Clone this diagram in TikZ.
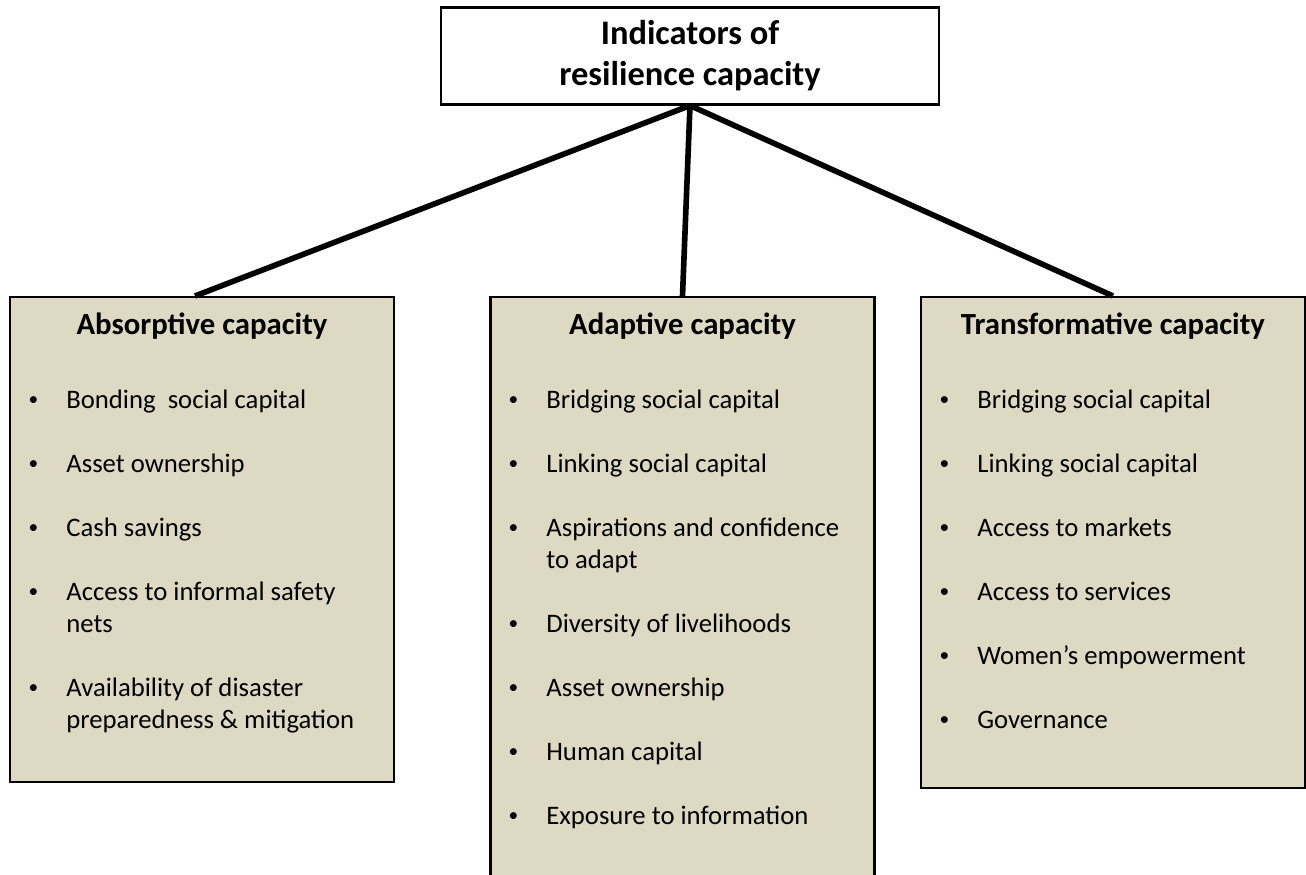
\documentclass[tikz,border=0pt]{standalone}
\usepackage{fontspec}
\setmainfont{Carlito}
\definecolor{boxfill}{HTML}{DDD9C3}

\begin{document}
\begin{tikzpicture}[x=0.02cm,y=-0.02cm]
    \tikzstyle{capbox} = [draw=black, line width=1.2pt, fill=boxfill, minimum width=7.68cm, anchor=north, inner sep=0pt]
    \tikzstyle{heading} = [font=\fontsize{17.5}{21}\selectfont\bfseries, anchor=base, inner sep=0pt]
    \tikzstyle{item} = [font=\fontsize{15.2}{18.1}\selectfont, anchor=base west, align=left, inner sep=0pt]
    \tikzstyle{dot} = [font=\fontsize{11}{13}\selectfont, anchor=base, inner sep=0pt, yshift=1.2pt]
    \tikzstyle{link} = [line width=3.2pt]
    \useasboundingbox (0,0) rectangle (1306,875);
    \clip (0,0) rectangle (1306,875);
    \fill[white] (0,0) rectangle (1306,875);

    % top node
    \node[draw=black, line width=1.2pt, minimum width=9.96cm, minimum height=1.94cm,
          align=center, font=\fontsize{19.6}{23.4}\selectfont\bfseries] (top) at (690,56)
          {Indicators of\\resilience capacity};

    % the three capacity boxes
    \node[capbox, minimum height=9.7cm] (absorb) at (202,296) {};
    \node[capbox, minimum height=11.9cm] (adapt) at (682.5,296) {};
    \node[capbox, minimum height=9.82cm] (transf) at (1113,296) {};

    \node[heading] (absorbhead) at (202,334) {Absorptive capacity};
    \node[heading] (adapthead) at (682.5,334) {Adaptive capacity};
    \node[heading] (transfhead) at (1113,334) {Transformative capacity};

    % absorptive (base of a two-line item is its last line)
    \foreach \y/\d/\txt [count=\i] in {408/408/Bonding\ \ social capital, 472/472/Asset ownership,
        536/536/Cash savings, 600/632/Access to informal safety\\nets,
        696/728/Availability of disaster\\preparedness \& mitigation} {
      \node[dot] (absorbdot\i) at (33.5,\y) {•};
      \node[item] (absorbitem\i) at (66,\d) {\txt};
    }

    % adaptive
    \foreach \y/\d/\txt [count=\i] in {408/408/Bridging social capital, 472/472/Linking social capital,
        536/568/Aspirations and confidence\\to adapt, 632/632/Diversity of livelihoods,
        696/696/Asset ownership, 760/760/Human capital, 824/824/Exposure to information} {
      \node[dot] (adaptdot\i) at (513.5,\y) {•};
      \node[item] (adaptitem\i) at (546,\d) {\txt};
    }

    % transformative
    \foreach \y/\txt [count=\i] in {408/Bridging social capital, 472/Linking social capital,
        536/Access to markets, 600/Access to services,
        664/Women’s empowerment, 728/Governance} {
      \node[dot] (transfdot\i) at (944.5,\y) {•};
      \node[item] (transfitem\i) at (977,\y) {\txt};
    }

    % connectors
    \draw[link] (top.south) -- ([xshift=-4pt]absorb.north);
    \draw[link] (top.south) -- (adapt.north);
    \draw[link] (top.south) -- (transf.north);
\end{tikzpicture}
\end{document}
